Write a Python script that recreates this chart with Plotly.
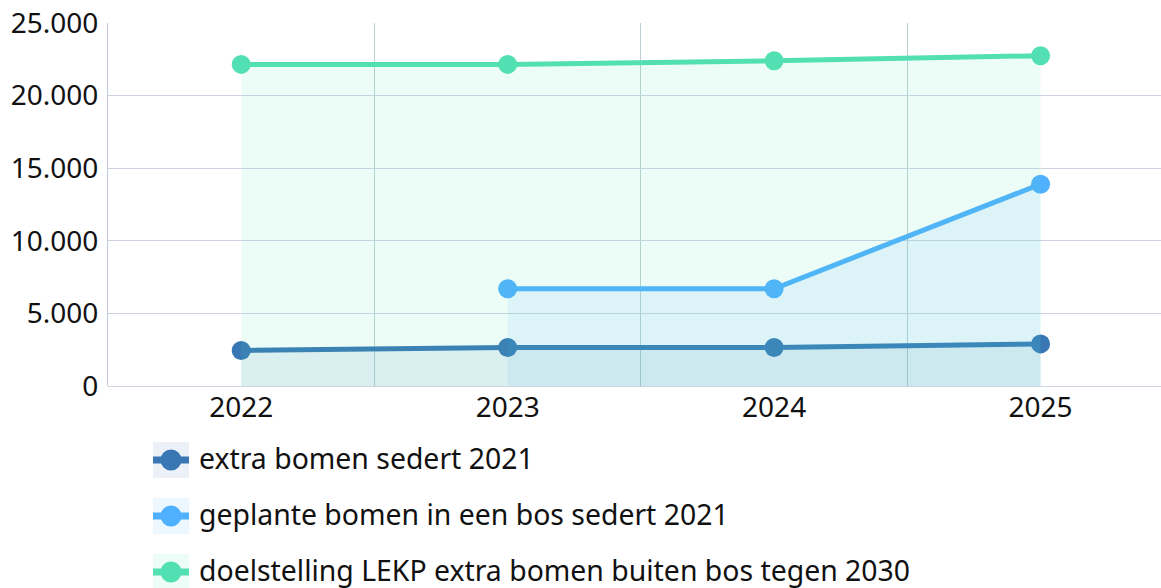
import plotly.graph_objects as go

years = ["2022", "2023", "2024", "2025"]
extra_bomen = [2450, 2650, 2650, 2900]
geplante_bomen = [None, 6700, 6700, 13900]
doelstelling = [22150, 22150, 22400, 22750]
y_ticks = [0, 5000, 10000, 15000, 20000, 25000]
y_tick_labels = ["0", "5.000", "10.000", "15.000", "20.000", "25.000"]

names = ["extra bomen sedert 2021",
         "geplante bomen in een bos sedert 2021",
         "doelstelling LEKP extra bomen buiten bos tegen 2030"]
colors = ["#3877B3", "#4FB0FF", "#52E0B2"]
fills = ["rgba(56,119,179,0.10)", "rgba(79,176,255,0.10)", "rgba(82,224,178,0.11)"]
series = [extra_bomen, geplante_bomen, doelstelling]

FONT = "Noto Sans"
PL, PT, PR, PB = 108, 23, 1161, 386  # plot area in screen px
PW, PH = PR - PL, PB - PT
W, H = 1161, 588


def px(sx):
    return (sx - PL) / PW


def py(sy):
    return (PB - sy) / PH


fig = go.Figure()
for i, (nm, vals) in enumerate(zip(names, series)):
    fig.add_trace(go.Scatter(
        x=years, y=vals, name=nm, mode="lines+markers",
        line=dict(color=colors[i], width=5),
        marker=dict(color=colors[i], size=19),
        fill="tozeroy", fillcolor=fills[i],
        showlegend=False,
    ))

# custom legend below the plot
row_top = [442, 498, 554]
for i, t in enumerate(row_top):
    cy = t + 18
    fig.add_shape(type="rect", xref="paper", yref="paper",
                  x0=px(153), x1=px(189), y0=py(min(t + 36, H)), y1=py(t),
                  fillcolor=fills[i], line=dict(width=0), layer="below")
    fig.add_shape(type="line", xref="paper", yref="paper",
                  x0=px(153), x1=px(189), y0=py(cy), y1=py(cy),
                  line=dict(color=colors[i], width=7))
    fig.add_shape(type="circle", xref="paper", yref="paper",
                  x0=px(160.5), x1=px(181.5), y0=py(cy + 10.5), y1=py(cy - 10.5),
                  fillcolor=colors[i], line=dict(width=0))
    fig.add_annotation(xref="paper", yref="paper", x=px(197), y=py(cy - 2),
                       xanchor="left", yanchor="middle", showarrow=False,
                       text=names[i], font=dict(family=FONT, size=28.4, color="#111111"))

fig.update_layout(
    width=W, height=H,
    margin=dict(l=PL, r=W - PR, t=PT, b=H - PB),
    paper_bgcolor="white", plot_bgcolor="white",
    font=dict(family=FONT, size=28, color="#111111"),
    showlegend=False,
    xaxis=dict(type="category", range=[-0.5, 3.452], showgrid=True,
               gridcolor="#BFCFD3", gridwidth=1, tickson="boundaries",
               ticks="", showline=False, tickfont=dict(size=28),
               ticklabelstandoff=2,
               fixedrange=True, automargin=False),
    yaxis=dict(range=[0, 25000], tickvals=y_ticks, ticktext=y_tick_labels,
               showgrid=True, gridcolor="#CCD5E0", gridwidth=1,
               zeroline=True, zerolinecolor="#CCD5E0", zerolinewidth=1,
               showline=True, linecolor="#C2CCDA", linewidth=1,
               ticks="", tickfont=dict(size=28), ticklabelstandoff=3,
               ticklabeloverflow="allow", automargin=False,
               fixedrange=True),
)

fig.write_html(
    "out.html",
    config={"displayModeBar": False},
    post_script="document.body.style.margin='0';document.body.style.overflow='hidden';",
)
